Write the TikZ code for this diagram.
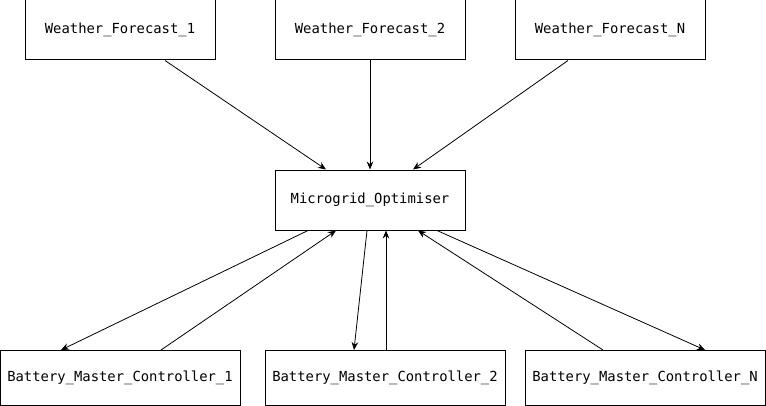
\documentclass[tikz,border=0pt]{standalone}
\usepackage{fontspec}
\setmonofont{DejaVu Sans Mono}
\usepackage{tikz}
\usetikzlibrary{positioning,arrows.meta}

\begin{document}
\begin{tikzpicture}[x=0.75pt, y=-0.75pt, every node/.style={draw, line width=0.75pt, inner sep=0pt, font=\ttfamily\fontsize{10.4}{12}\selectfont}, >={Stealth[length=6pt,width=5pt]}]
  \useasboundingbox (0,0) rectangle (766,406);
  \tikzset{fbox/.style={minimum width=142.5pt, minimum height=45pt},
           bbox/.style={minimum width=180pt, minimum height=41.25pt}}
  \node (wf1) [fbox] at (120,30) {Weather\_Forecast\_1};
  \node (wf2) [fbox] at (370,30) {Weather\_Forecast\_2};
  \node (wfn) [fbox] at (610,30) {Weather\_Forecast\_N};
  \node (opt) [fbox] at (370,200) {Microgrid\_Optimiser};
  \node (bmc1) [bbox] at (120,378) {Battery\_Master\_Controller\_1};
  \node (bmc2) [bbox] at (385,378) {Battery\_Master\_Controller\_2};
  \node (bmcn) [bbox] at (645,378) {Battery\_Master\_Controller\_N};
  \draw[->,line width=0.6pt] ([xshift=33.75pt]wf1.south)--([xshift=-33pt]opt.north);
  \draw[->,line width=0.6pt] (wf2.south)--(opt.north);
  \draw[->,line width=0.6pt] ([xshift=-31.5pt]wfn.south)--([xshift=32.25pt]opt.north);
  \draw[->,line width=0.6pt] ([xshift=-46.5pt]opt.south)--([xshift=-44.25pt]bmc1.north);
  \draw[->,line width=0.6pt] ([xshift=30.75pt]bmc1.north)--([xshift=-25.5pt]opt.south);
  \draw[->,line width=0.6pt] ([xshift=-2.25pt]opt.south)--([xshift=-23.25pt]bmc2.north);
  \draw[->,line width=0.6pt] ([xshift=0.75pt]bmc2.north)--([xshift=12pt]opt.south);
  \draw[->,line width=0.6pt] ([xshift=-31.5pt]bmcn.north)--([xshift=36pt]opt.south);
  \draw[->,line width=0.6pt] ([xshift=50.25pt]opt.south)--([xshift=45pt]bmcn.north);
\end{tikzpicture}
\end{document}
